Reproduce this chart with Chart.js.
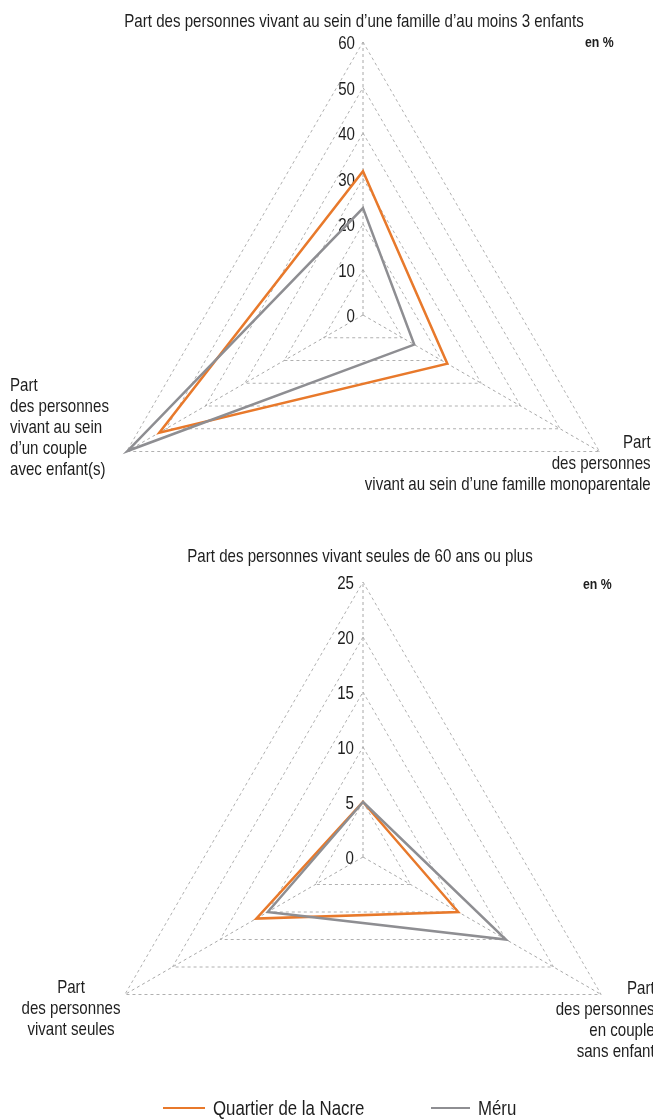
<!DOCTYPE html>
<html><head><meta charset="utf-8">
<script src="https://cdn.jsdelivr.net/npm/chart.js@4.4.1/dist/chart.umd.min.js"></script>
<style>
html,body{margin:0;padding:0;background:#fff;overflow:hidden;}
body{width:653px;height:1120px;position:relative;color:#1e1e1e;}
.t{position:absolute;white-space:nowrap;font-size:18.4px;line-height:21px;}
canvas{position:absolute;left:0;}
.lg{position:absolute;height:2.6px;}
</style></head>
<body>
<canvas id="cTop" width="653" height="600" style="top:0"></canvas>
<canvas id="cBot" width="653" height="580" style="top:560px"></canvas>
<script>
// ---------- DATA ----------
const seriesNames = ["Quartier de la Nacre", "Méru"];
const seriesColors = ["#E8792B", "#8E8E92"];

const titleTop = "Part des personnes vivant au sein d’une famille d’au moins 3 enfants";
const categoriesTop = [
  ["Part des personnes vivant au sein d’une famille d’au moins 3 enfants"],
  ["Part", "des personnes", "vivant au sein d’une famille monoparentale"],
  ["Part", "des personnes", "vivant au sein", "d’un couple", "avec enfant(s)"]
];
const nacreTop = [31.6, 21.4, 51.7];
const meruTop  = [23.5, 13.0, 59.8];
const ticksTop = [0, 10, 20, 30, 40, 50, 60];

const titleBot = "Part des personnes vivant seules de 60 ans ou plus";
const categoriesBot = [
  ["Part des personnes vivant seules de 60 ans ou plus"],
  ["Part", "des personnes", "en couple", "sans enfant"],
  ["Part", "des personnes", "vivant seules"]
];
const nacreBot = [5.0, 10.0, 11.2];
const meruBot  = [5.0, 15.0, 10.0];
const ticksBot = [0, 5, 10, 15, 20, 25];

const unitLabel = "en %";

// ---------- FONT ----------
function hasFont(name){
  const c = document.createElement('canvas').getContext('2d');
  const s = 'des personnes mmmWWWiii 0123';
  c.font = '40px monospace'; const a = c.measureText(s).width;
  c.font = '40px "' + name + '", monospace'; const b = c.measureText(s).width;
  return Math.abs(a - b) > 1;
}
const NARROW = hasFont('Liberation Sans Narrow');
const FAM = NARROW ? '"Liberation Sans Narrow"' : '"Liberation Sans", Arial';
const SX = NARROW ? 1 : 0.82;

function place(lines, x, yFirst, align, opts){
  opts = opts || {};
  const d = document.createElement('div');
  d.className = 't';
  d.style.fontFamily = FAM;
  if (opts.size) d.style.fontSize = opts.size + 'px';
  if (opts.lh) d.style.lineHeight = opts.lh + 'px';
  if (opts.bold) d.style.fontWeight = 'bold';
  const lh = opts.lh || 21;
  d.style.top = (yFirst - lh / 2) + 'px';
  d.style.textAlign = align;
  lines.forEach((l, i) => { if (i) d.appendChild(document.createElement('br')); d.appendChild(document.createTextNode(l)); });
  let tr = '';
  if (align === 'left') { d.style.left = x + 'px'; d.style.transformOrigin = '0 0'; }
  else if (align === 'right') { d.style.right = (653 - x) + 'px'; d.style.transformOrigin = '100% 0'; }
  else { d.style.left = x + 'px'; tr = 'translateX(-50%) '; d.style.transformOrigin = '50% 0'; }
  if (SX !== 1) tr += 'scaleX(' + SX + ')';
  if (tr) d.style.transform = tr;
  document.body.appendChild(d);
  return d;
}

// ---------- TICK LABEL PLUGIN ----------
const tickText = {
  id: 'tickText',
  beforeDatasetsDraw(chart, args, opts){
    const s = chart.scales.r, ctx = chart.ctx;
    ctx.save();
    ctx.fillStyle = '#1e1e1e';
    ctx.textAlign = 'right';
    ctx.textBaseline = 'middle';
    ctx.font = '18.4px ' + FAM;
    opts.values.forEach(v => {
      const p = s.getPointPositionForValue(0, v);
      ctx.save();
      ctx.translate(p.x - opts.gap, p.y + 2);
      ctx.scale(SX, 1);
      ctx.fillText(String(v), 0, 0);
      ctx.restore();
    });
    ctx.restore();
  }
};

function makeRadar(id, labels, nacre, meru, max, step, ticks, pad, gap){
  return new Chart(document.getElementById(id), {
    type: 'radar',
    data: {
      labels: labels.map(l => l.join(' ')),
      datasets: [
        { label: seriesNames[0], data: nacre, borderColor: seriesColors[0], backgroundColor: 'transparent', fill: false, order: 1 },
        { label: seriesNames[1], data: meru, borderColor: seriesColors[1], backgroundColor: 'transparent', fill: false, order: 0 }
      ]
    },
    options: {
      responsive: false,
      animation: false,
      devicePixelRatio: 1,
      layout: { padding: pad },
      elements: { line: { tension: 0, borderWidth: 2.5 }, point: { radius: 0, hoverRadius: 0 } },
      plugins: { legend: { display: false }, tooltip: { enabled: false }, tickText: { values: ticks, gap: gap } },
      scales: {
        r: {
          min: 0, max: max, beginAtZero: true,
          ticks: { display: false, stepSize: step },
          pointLabels: { display: false },
          grid: { color: '#B0B0B0', lineWidth: 1 },
          border: { dash: [3, 3] },
          angleLines: { color: '#A8A8A8', lineWidth: 1, borderDash: [3, 3] }
        }
      }
    },
    plugins: [tickText]
  });
}

makeRadar('cTop', categoriesTop, nacreTop, meruTop, 60, 10, ticksTop, { left: 90, right: 17, top: 42, bottom: 12 }, 8);
makeRadar('cBot', categoriesBot, nacreBot, meruBot, 25, 5, ticksBot, { left: 88, right: 15, top: 22, bottom: 8 }, 9);

// ---------- TEXTS ----------
place([titleTop], 354, 20, 'center');
place([unitLabel], 585, 41, 'left', { bold: true, size: 15 });
place(categoriesTop[2], 10, 384, 'left');
place(categoriesTop[1], 651, 441, 'right');

place([titleBot], 360, 555, 'center');
place([unitLabel], 583, 583, 'left', { bold: true, size: 15 });
place(categoriesBot[2], 71, 986, 'center');
place(categoriesBot[1], 655, 987, 'right');

// ---------- LEGEND ----------
function legendItem(i, x1, x2, tx){
  const l = document.createElement('div');
  l.className = 'lg';
  l.style.left = x1 + 'px'; l.style.width = (x2 - x1) + 'px';
  l.style.top = (1108 - 1.3) + 'px';
  l.style.background = seriesColors[i];
  document.body.appendChild(l);
  place([seriesNames[i]], tx, 1108, 'left', { size: 20.5, lh: 24 });
}
legendItem(0, 163, 205, 213);
legendItem(1, 431, 470, 478);
</script>
</body></html>
